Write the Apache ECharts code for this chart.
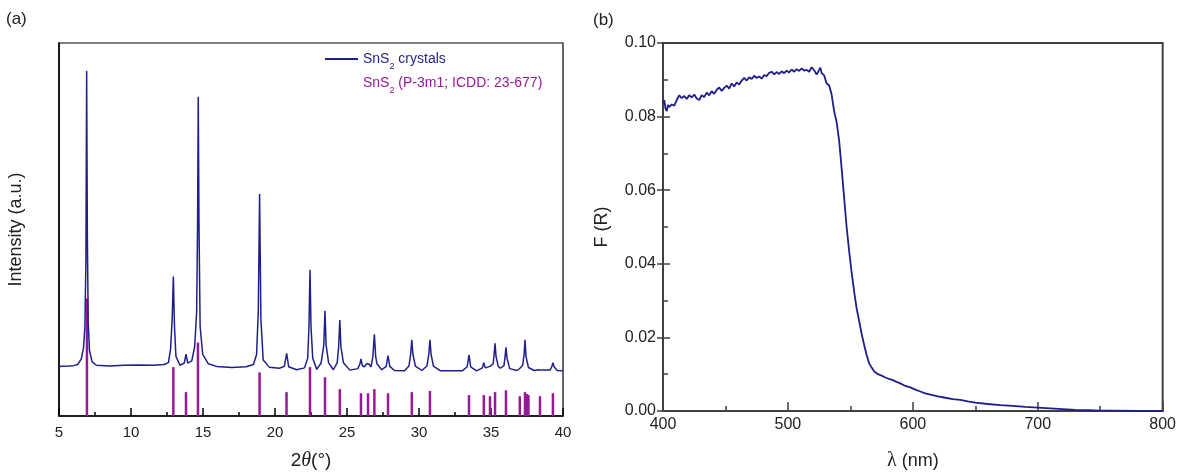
<!DOCTYPE html>
<html>
<head>
<meta charset="utf-8">
<script src="https://cdn.jsdelivr.net/npm/echarts@6/dist/echarts.min.js"></script>
<style>
  html, body { margin: 0; padding: 0; background: #fff; }
  #main { width: 1179px; height: 476px; }
</style>
</head>
<body>
<div id="main"></div>
<script>
// (a) XRD pattern: [2theta, intensity a.u.]
var xrdCurve = [
  [5.0,13.3],[5.6,13.4],[6.0,13.5],[6.3,13.8],[6.55,15.3],[6.7,18.2],[6.8,24],[6.87,42],[6.92,92.5],[6.97,48],
  [7.03,25],[7.12,17.5],[7.3,14.5],[7.6,13.6],[8.5,13.4],[9.5,13.6],[10.5,13.7],[11.5,13.6],[12.3,13.8],[12.6,14.3],
  [12.75,18],[12.86,26],[12.94,37.4],[13.02,24],[13.12,16],[13.4,13.6],[13.7,14.2],[13.82,16.6],[13.94,14.2],[14.05,13.8],
  [14.22,14.8],[14.42,18.5],[14.56,28],[14.62,50],[14.67,85.6],[14.72,52],[14.8,24],[14.98,16.5],[15.37,14],[15.95,13.3],
  [17.0,13.0],[18.0,13.2],[18.5,13.8],[18.72,16.5],[18.84,28],[18.93,59.5],[19.02,26],[19.18,15],[19.6,13.1],[20.3,12.8],
  [20.65,13.3],[20.81,16.8],[20.95,13.2],[21.5,12.4],[22.05,12.9],[22.27,15.5],[22.36,24],[22.43,39.2],[22.5,24],[22.62,15.5],
  [22.9,12.5],[23.2,14.2],[23.39,19],[23.47,28.2],[23.55,19],[23.72,14.3],[24.05,12.4],[24.32,14.3],[24.42,18.5],[24.5,25.7],
  [24.58,18.5],[24.75,14.3],[25.2,12.3],[25.75,12.7],[25.9,14],[25.97,15.3],[26.06,13.5],[26.2,13.2],[26.4,14.1],[26.46,14.6],
  [26.55,13.8],[26.67,13.2],[26.8,16],[26.9,21.9],[26.99,16],[27.08,14],[27.41,12.4],[27.72,13.3],[27.85,16.2],[27.97,13.3],
  [28.3,12.2],[29.0,12.1],[29.3,13.4],[29.42,16.5],[29.5,20.4],[29.58,16.5],[29.75,13.4],[30.2,12.2],[30.55,13.4],[30.68,16.5],
  [30.76,20.4],[30.84,16.5],[31.0,13.4],[31.5,12.1],[33.0,12.1],[33.35,13.2],[33.47,16.4],[33.59,13.2],[34.0,12.1],[34.4,12.9],
  [34.5,14.3],[34.6,12.9],[34.93,13.3],[35.15,14],[35.22,16.5],[35.28,19.5],[35.35,16],[35.5,13.3],[35.65,12.8],[35.9,13.5],
  [35.98,16],[36.04,18.4],[36.11,15.5],[36.3,12.7],[36.8,12.2],[37.01,12.8],[37.2,13.6],[37.3,16.5],[37.36,20.4],[37.43,16],
  [37.6,13],[38.0,12.2],[38.3,12.4],[38.4,12.8],[38.5,12.3],[39.1,12.3],[39.22,13.2],[39.3,14.3],[39.38,13.2],[39.6,12.2],[40,12.1]
];

// ICDD 23-677 reference lines
var refAngle = [6.94,12.94,13.82,14.65,18.93,20.8,22.43,23.47,24.5,25.97,26.46,26.9,27.85,29.5,30.76,33.47,34.5,34.93,35.28,36.04,37.0,37.36,37.5,37.6,38.4,39.3];
var refIntensity = [31.5,13.1,6.4,19.7,11.7,6.4,13.1,10.4,7.2,6.1,6.1,7.2,6.1,6.4,6.7,5.6,5.6,5.3,6.4,6.9,5.3,6.4,5.9,5.6,5.3,6.1];

// (b) Kubelka-Munk F(R) vs wavelength
var wavelength = [400,401,402,403,404,405,407,409,411,413,415,417,419,421,423,425,427,429,431,433,435,437,439,441,443,445,447,449,451,453,
  455,457,459,461,463,465,467,469,471,473,475,477,479,481,483,485,487,489,491,493,495,497,499,501,503,505,507,509,511,513,
  515,517,519,521,523,525,526,527,529,531,533,535,537,539,541,543,545,547,549,551,553,555,557,559,561,563,565,567,569,572,
  575,578,581,584,587,590,594,598,602,606,610,615,620,626,632,638,644,650,660,670,680,690,700,710,720,730,740,750,760,780,800];
var fr = [0.0838,0.0845,0.0822,0.0815,0.0832,0.0826,0.0833,0.0830,0.0845,0.0858,0.0850,0.0856,0.0848,0.0858,0.0852,0.0860,0.0849,0.0845,0.0858,0.0853,
  0.0865,0.0858,0.0869,0.0862,0.0873,0.0879,0.0870,0.0878,0.0884,0.0876,0.0890,0.0882,0.0893,0.0887,0.0898,0.0905,0.0898,0.0907,0.0902,0.0911,
  0.0905,0.0909,0.0903,0.0913,0.0910,0.0919,0.0922,0.0915,0.0921,0.0916,0.0923,0.0918,0.0925,0.0920,0.0928,0.0922,0.0929,0.0924,0.0931,0.0925,
  0.0927,0.0922,0.0934,0.0926,0.0914,0.0927,0.0933,0.0918,0.0912,0.0890,0.0885,0.0860,0.0815,0.0785,0.0735,0.0660,0.0580,0.0500,0.0435,0.0377,
  0.0325,0.0279,0.0245,0.0210,0.0180,0.0152,0.0130,0.0118,0.0108,0.0100,0.0096,0.0091,0.0087,0.0084,0.0079,0.0075,0.0068,0.0064,0.0058,0.0053,
  0.0048,0.0044,0.0040,0.0036,0.0032,0.0030,0.0026,0.0023,0.0019,0.0016,0.0014,0.0011,0.0009,0.0007,0.0005,0.0003,0.0002,0.0001,0.0001,0.0000,0.0000];

var navy = '#1f1f8c';
var purple = '#951a95';
var font = 'Liberation Sans, Arial, sans-serif';

var chart = echarts.init(document.getElementById('main'));

var refData = refAngle.map(function (a, i) { return [a, refIntensity[i]]; });
var frData = wavelength.map(function (w, i) { return [w, fr[i]]; });

var option = {
  backgroundColor: '#fff',
  animation: false,
  textStyle: { fontFamily: font },
  grid: [
    { left: 59, top: 43, width: 504, height: 375, show: true, borderColor: '#000', borderWidth: 1.2 },
    { left: 663, top: 43, width: 504, height: 375, show: true, borderColor: '#404040', borderWidth: 2 }
  ],
  legend: {
    left: 320, top: 47, orient: 'vertical', itemWidth: 33, itemHeight: 2, itemGap: 5,
    data: [{ name: 'crystals', icon: 'rect' }, { name: 'ref', icon: 'none' }],
    formatter: function (name) {
      if (name === 'crystals') return '{a|SnS}{as|2}{a| crystals}';
      return '{b|SnS}{bs|2}{b| (P-3m1; ICDD: 23-677)}';
    },
    textStyle: {
      fontFamily: font,
      rich: {
        a: { color: navy, fontSize: 14, lineHeight: 18 },
        as: { color: navy, fontSize: 9, lineHeight: 18, verticalAlign: 'bottom', padding: [0, 0, -3, 0] },
        b: { color: purple, fontSize: 14, lineHeight: 18 },
        bs: { color: purple, fontSize: 9, lineHeight: 18, verticalAlign: 'bottom', padding: [0, 0, -3, 0] }
      }
    }
  },
  xAxis: [
    {
      gridIndex: 0, type: 'value', min: 5, max: 40, interval: 5,
      name: '{n|2}{i|θ}{n|(°)}', nameLocation: 'middle', nameGap: 35,
      nameTextStyle: {
        rich: {
          n: { fontSize: 19, color: '#222', fontFamily: font },
          i: { fontSize: 20, color: '#222', fontStyle: 'italic', fontFamily: 'Liberation Serif, serif' }
        }
      },
      axisLine: { lineStyle: { color: '#000', width: 1.5 } },
      axisTick: { inside: true, length: 8, lineStyle: { color: '#000', width: 1.5 } },
      minorTick: { show: true, splitNumber: 2, length: 4, lineStyle: { color: '#000', width: 1.5 } },
      axisLabel: { fontSize: 15, color: '#222', margin: 9 },
      splitLine: { show: false }
    },
    {
      gridIndex: 1, type: 'value', min: 400, max: 800, interval: 100,
      name: '{l|λ}{n| (nm)}', nameLocation: 'middle', nameGap: 40,
      nameTextStyle: {
        rich: {
          n: { fontSize: 18, color: '#222', fontFamily: font },
          l: { fontSize: 20, color: '#222', fontFamily: 'Liberation Serif, serif' }
        }
      },
      axisLine: { lineStyle: { color: '#404040', width: 2 } },
      axisTick: { inside: true, length: 9, lineStyle: { color: '#404040', width: 1.5 } },
      minorTick: { show: true, splitNumber: 2, length: 5, lineStyle: { color: '#404040', width: 1.5 } },
      axisLabel: { fontSize: 16, color: '#222', margin: 6 },
      splitLine: { show: false }
    }
  ],
  yAxis: [
    {
      gridIndex: 0, type: 'value', min: 0, max: 100,
      name: 'Intensity (a.u.)', nameLocation: 'middle', nameGap: 34,
      nameTextStyle: { fontSize: 18, color: '#222' },
      axisLine: { show: true, lineStyle: { color: '#000', width: 1.5 } },
      axisTick: { show: false },
      axisLabel: { show: false },
      splitLine: { show: false }
    },
    {
      gridIndex: 1, type: 'value', min: 0, max: 0.1, interval: 0.02, position: 'left',
      name: 'F (R)', nameLocation: 'middle', nameGap: 52,
      nameTextStyle: { fontSize: 18, color: '#222' },
      axisLine: { show: true, lineStyle: { color: '#404040', width: 2 } },
      axisTick: { inside: true, length: 7, lineStyle: { color: '#404040', width: 1.5 } },
      minorTick: { show: true, splitNumber: 2, length: 5, lineStyle: { color: '#404040', width: 1.5 } },
      axisLabel: { fontSize: 16, color: '#222', margin: 7, formatter: function (v) { return v.toFixed(2); } },
      splitLine: { show: false }
    },
    {
      // outer half of the crossing major ticks
      gridIndex: 1, type: 'value', min: 0, max: 0.1, interval: 0.02, position: 'left', offset: 0,
      axisLine: { show: false },
      axisTick: { show: true, inside: false, length: 6, lineStyle: { color: '#404040', width: 1.5 } },
      axisLabel: { show: false },
      splitLine: { show: false }
    }
  ],
  graphic: [
    { type: 'text', left: 6, top: 11, style: { text: '(a)', fontSize: 17, fill: '#222', fontFamily: font } },
    { type: 'text', left: 593, top: 12, style: { text: '(b)', fontSize: 17, fill: '#222', fontFamily: font } }
  ],
  series: [
    {
      name: 'crystals', type: 'line', xAxisIndex: 0, yAxisIndex: 0,
      data: xrdCurve, symbol: 'none', smooth: false,
      lineStyle: { color: navy, width: 1.5 }, itemStyle: { color: navy }
    },
    {
      name: 'ref', type: 'bar', xAxisIndex: 0, yAxisIndex: 0,
      data: refData, barWidth: 2.5, itemStyle: { color: purple }
    },
    {
      name: 'fr', type: 'line', xAxisIndex: 1, yAxisIndex: 1,
      data: frData, symbol: 'none',
      lineStyle: { color: navy, width: 1.8 }
    }
  ]
};

chart.setOption(option);
</script>
</body>
</html>
